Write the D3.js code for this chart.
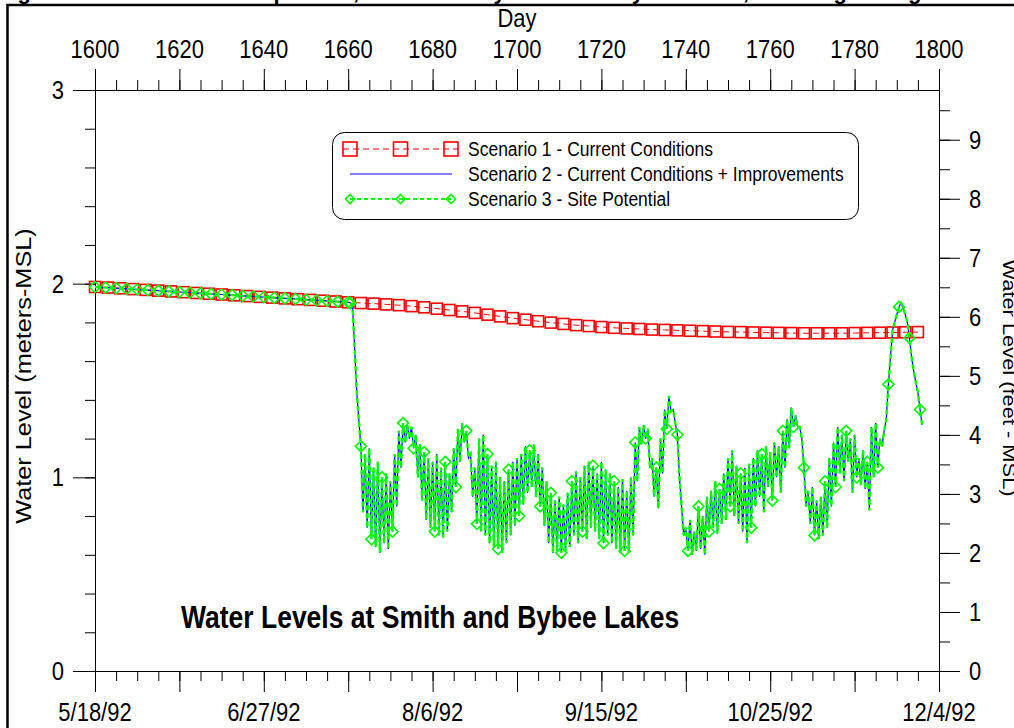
<!DOCTYPE html>
<html>
<head>
<meta charset="utf-8">
<title>Water Levels at Smith and Bybee Lakes</title>
<script src="https://d3js.org/d3.v7.min.js"></script>
<style>
  body { margin: 0; background: #fff; }
  svg { display: block; font-family: "Liberation Sans", Arial, sans-serif; }
</style>
</head>
<body>
<svg width="1014" height="728"></svg>
<script>
// axis ticks and labels
var dayTicks = [1600, 1620, 1640, 1660, 1680, 1700, 1720, 1740, 1760, 1780, 1800];
var dateTicks = [1600, 1640, 1680, 1720, 1760, 1800];
var dateLabels = ['5/18/92', '6/27/92', '8/6/92', '9/15/92', '10/25/92', '12/4/92'];
var meterTicks = [0, 1, 2, 3];
var feetTicks = [0, 1, 2, 3, 4, 5, 6, 7, 8, 9];

var seriesNames = ['Scenario 1 - Current Conditions',
                   'Scenario 2 - Current Conditions + Improvements',
                   'Scenario 3 - Site Potential'];

// scenario 1, one value every 3 days starting at day 1600
var s1Start = 1600, s1Step = 3;
var scenario1 = [
  1.983, 1.980, 1.976, 1.972, 1.968, 1.964, 1.960, 1.956, 1.952, 1.948,
  1.944, 1.940, 1.936, 1.932, 1.928, 1.924, 1.920, 1.916, 1.912, 1.908,
  1.904, 1.900, 1.897, 1.893, 1.889, 1.884, 1.878, 1.871, 1.864, 1.857,
  1.849, 1.840, 1.831, 1.822, 1.814, 1.806, 1.799, 1.792, 1.786, 1.781,
  1.776, 1.772, 1.769, 1.766, 1.763, 1.761, 1.759, 1.757, 1.755, 1.753,
  1.751, 1.750, 1.748, 1.747, 1.746, 1.745, 1.744, 1.744, 1.744, 1.744,
  1.745, 1.746, 1.747, 1.748, 1.749, 1.750
];

// scenarios 2 and 3 lie on top of each other in the picture
// before the drop: every 2.5 days from day 1600
var earlyStart = 1600, earlyStep = 2.5;
var scenarioEarly = [
  1.983, 1.980, 1.977, 1.973, 1.970, 1.967, 1.964, 1.960, 1.957, 1.954,
  1.950, 1.947, 1.944, 1.941, 1.937, 1.934, 1.931, 1.927, 1.924, 1.921,
  1.917, 1.914, 1.911, 1.907, 1.904
];
// after the drop: every half day from day 1660.5
var lateStart = 1660.5, lateStep = 0.5;
var scenarioLate = [
  1.90, 1.89, 1.68, 1.45, 1.30,
  // 1663 -
  1.16, 0.82, 1.12, 0.74, 1.15, 0.68, 1.05, 0.64, 1.08, 0.61,
  1.00, 0.66, 1.02, 0.63, 0.98, 0.72, 1.12, 0.85, 1.24, 1.05,
  1.28, 1.18, 1.27, 1.20, 1.26, 1.15, 1.22, 1.00, 1.17, 0.88,
  1.13, 0.78, 1.10, 0.74, 1.08, 0.72, 1.12, 0.70, 1.05, 0.69,
  // 1683 -
  1.08, 0.72, 1.02, 0.82, 1.15, 0.95, 1.25, 1.08, 1.28, 1.18,
  1.24, 1.10, 1.12, 0.90, 1.05, 0.76, 1.20, 0.72, 1.22, 0.70,
  1.12, 0.66, 1.06, 0.64, 1.08, 0.63, 1.00, 0.61, 0.98, 0.66,
  1.04, 0.70, 1.08, 0.75, 1.10, 0.80, 1.12, 0.86, 1.16, 0.92,
  // 1703 -
  1.14, 0.95, 1.17, 0.90, 1.12, 0.85, 1.05, 0.75, 0.98, 0.66,
  0.92, 0.61, 0.88, 0.62, 0.90, 0.61, 0.86, 0.62, 0.92, 0.64,
  0.98, 0.70, 1.03, 0.66, 1.00, 0.72, 1.06, 0.68, 1.08, 0.74,
  1.06, 0.72, 1.02, 0.68, 1.08, 0.66, 1.04, 0.70, 1.02, 0.66,
  // 1723 -
  0.98, 0.63, 0.95, 0.61, 0.99, 0.62, 0.93, 0.61, 1.00, 0.70,
  1.18, 0.98, 1.26, 1.17, 1.27, 1.20, 1.25, 1.05, 1.10, 0.90,
  1.05, 0.84, 1.20, 1.02, 1.35, 1.25, 1.42, 1.34, 1.35, 1.28,
  1.22, 1.00, 0.85, 0.70, 0.74, 0.62, 0.78, 0.60, 0.72, 0.62,
  // 1743 -
  0.85, 0.63, 0.80, 0.60, 0.90, 0.72, 0.93, 0.74, 0.98, 0.71,
  0.94, 0.76, 1.02, 0.78, 1.10, 0.85, 1.14, 0.80, 1.06, 0.76,
  1.02, 0.72, 1.05, 0.66, 1.07, 0.74, 1.10, 0.85, 1.14, 0.90,
  1.12, 0.82, 1.16, 0.95, 1.13, 0.88, 1.18, 1.00, 1.16, 0.92,
  // 1763 -
  1.24, 1.05, 1.30, 1.15, 1.36, 1.26, 1.32, 1.26, 1.26, 1.20,
  1.05, 0.85, 0.93, 0.76, 0.95, 0.70, 0.88, 0.68, 0.90, 0.70,
  0.98, 0.74, 1.10, 0.85, 1.18, 0.95, 1.26, 1.02, 1.22, 0.98,
  1.24, 1.08, 1.20, 0.92, 1.22, 1.00, 1.10, 0.96, 1.14, 0.94,
  // 1783 -
  1.08, 0.83, 1.26, 1.00, 1.28, 1.05,
  1.20, 1.16, 1.24, 1.30, 1.48, 1.62, 1.76, 1.80, 1.84, 1.88,
  1.90, 1.88, 1.84, 1.80, 1.72, 1.62, 1.55, 1.49, 1.44, 1.35, 1.27
];

var svg = d3.select('svg');
var margin = { left: 95, right: 75, top: 90, bottom: 57 };
var width = +svg.attr('width');
var height = +svg.attr('height');
var stretch = 1.15;   // the original lettering is drawn a bit tall

var x = d3.scaleLinear().domain([1600, 1800]).range([margin.left, width - margin.right]);
var y = d3.scaleLinear().domain([0, 3]).range([height - margin.bottom, margin.top]);
var yFeet = d3.scaleLinear().domain([0, 3 / 0.3048]).range([height - margin.bottom, margin.top]);

var s1 = scenario1.map(function(v, i) { return { day: s1Start + i * s1Step, v: v, mark: true }; });
var s23 = scenarioEarly.map(function(v, i) { return { day: earlyStart + i * earlyStep, v: v, mark: true }; })
  .concat(scenarioLate.map(function(v, i) { return { day: lateStart + i * lateStep, v: v, mark: i % 5 === 0 }; }));

// figure border and the cut off caption above it
svg.append('text')
  .attr('x', -2).attr('y', -1.5)
  .style('font-weight', 'bold').style('font-size', '22px')
  .text('Figure 6.  Water Level Comparison, Smith and Bybee Lakes by Scenario, Showing Changes');
svg.append('path')
  .attr('d', 'M7.5,' + height + 'V5H' + width)
  .attr('fill', 'none').attr('stroke', '#000').attr('stroke-width', 2.5);

function tickAxis(axis, g) {
  g.call(axis);
  g.select('.domain').remove();
  g.selectAll('line').attr('stroke', '#000');
}

var plotBottom = y(0), plotTop = y(3);
var left = x(1600), right = x(1800);

var gTop = svg.append('g').attr('transform', 'translate(0,' + plotTop + ')');
tickAxis(d3.axisTop(x).tickValues(d3.range(1600, 1801, 5)).tickSize(10).tickFormat(''), gTop.append('g'));
tickAxis(d3.axisTop(x).tickValues(dayTicks).tickSize(21).tickFormat(''), gTop.append('g'));

var gBot = svg.append('g').attr('transform', 'translate(0,' + plotBottom + ')');
tickAxis(d3.axisBottom(x).tickValues(d3.range(1600, 1801, 5)).tickSize(10).tickFormat(''), gBot.append('g'));
tickAxis(d3.axisBottom(x).tickValues(dayTicks).tickSize(21).tickFormat(''), gBot.append('g'));

var gLeft = svg.append('g').attr('transform', 'translate(' + left + ',0)');
tickAxis(d3.axisLeft(y).tickValues(d3.range(0, 3.01, 0.2)).tickSize(10).tickFormat(''), gLeft.append('g'));
tickAxis(d3.axisLeft(y).tickValues(meterTicks).tickSize(22).tickFormat(''), gLeft.append('g'));

var gRight = svg.append('g').attr('transform', 'translate(' + right + ',0)');
tickAxis(d3.axisRight(yFeet).tickValues(d3.range(0, 9.51, 0.5)).tickSize(11).tickFormat(''), gRight.append('g'));
tickAxis(d3.axisRight(yFeet).tickValues(feetTicks).tickSize(21).tickFormat(''), gRight.append('g'));

svg.append('rect')
  .attr('x', left + 0.5).attr('y', plotTop + 0.5)
  .attr('width', right - left).attr('height', plotBottom - plotTop)
  .attr('fill', 'none').attr('stroke', '#000');

// tall lettering helper
function label(px, py, txt, anchor, size, rot, extra) {
  var t = 'translate(' + px + ',' + py + ')';
  if (rot) t += ' rotate(' + rot + ') scale(' + stretch + ',1)';
  else t += ' scale(1,' + stretch + ')';
  return svg.append('g').attr('transform', t)
    .append('text')
    .attr('text-anchor', anchor)
    .style('font-size', size + 'px')
    .style('font-weight', extra || 'normal')
    .text(txt);
}

dayTicks.forEach(function(d) { label(x(d), 58, d, 'middle', 22); });
label((left + right) / 2, 27, 'Day', 'middle', 22);
dateTicks.forEach(function(d, i) { label(x(d), 721, dateLabels[i], 'middle', 22); });
meterTicks.forEach(function(d) { label(64, y(d), d, 'end', 22).attr('dy', '0.358em'); });
feetTicks.forEach(function(d) { label(right + 30, yFeet(d), d, 'start', 22).attr('dy', '0.358em'); });
label(31, 376, 'Water Level (meters-MSL)', 'middle', 22, -90);
label(1003, 378, 'Water Level (feet - MSL)', 'middle', 19, 90);

label(181, 628, 'Water Levels at Smith and Bybee Lakes', 'start', 26.5, 0, 'bold');

// series
var line = d3.line().x(function(d) { return x(d.day); }).y(function(d) { return y(d.v); });
var red = '#ff0000', blue = '#0000ff', green = '#00ff00';

function squares(g, pts, size) {
  g.selectAll('rect.sq').data(pts).enter().append('rect').attr('class', 'sq')
    .attr('x', function(d) { return d[0] - size / 2; })
    .attr('y', function(d) { return d[1] - size / 2; })
    .attr('width', size).attr('height', size)
    .attr('fill', 'none').attr('stroke', red).attr('stroke-width', 1.6);
}
function diamonds(g, pts, size) {
  g.selectAll('path.dm').data(pts).enter().append('path').attr('class', 'dm')
    .attr('d', function(d) {
      var h = size / 2;
      return 'M' + d[0] + ',' + (d[1] - h) + 'L' + (d[0] + h) + ',' + d[1] +
             'L' + d[0] + ',' + (d[1] + h) + 'L' + (d[0] - h) + ',' + d[1] + 'Z';
    })
    .attr('fill', 'none').attr('stroke', green).attr('stroke-width', 1.6);
}

var plot = svg.append('g');
plot.append('path').attr('d', line(s1))
  .attr('fill', 'none').attr('stroke', red).attr('stroke-width', 1).attr('stroke-dasharray', '6,4');
squares(plot.append('g'), s1.map(function(d) { return [x(d.day), y(d.v)]; }), 11);

plot.append('path').attr('d', line(s23))
  .attr('fill', 'none').attr('stroke', blue).attr('stroke-width', 1.2);

plot.append('path').attr('d', line(s23))
  .attr('fill', 'none').attr('stroke', green).attr('stroke-width', 2.4).attr('stroke-dasharray', '5,3');
diamonds(plot.append('g'), s23.filter(function(d) { return d.mark; }).map(function(d) { return [x(d.day), y(d.v)]; }), 11);

// legend
var lg = svg.append('g');
lg.append('rect').attr('x', 332.5).attr('y', 132.5).attr('width', 526).attr('height', 87).attr('rx', 12)
  .attr('fill', '#fff').attr('stroke', '#000');
var rows = [149, 174, 199];
var symX = [350, 400.5, 451];
lg.append('line').attr('x1', 343).attr('x2', 458).attr('y1', rows[0]).attr('y2', rows[0])
  .attr('stroke', red).attr('stroke-dasharray', '6,4');
squares(lg.append('g'), symX.map(function(sx) { return [sx, rows[0]]; }), 14);
lg.append('line').attr('x1', 350).attr('x2', 452).attr('y1', rows[1]).attr('y2', rows[1])
  .attr('stroke', blue).attr('stroke-width', 1.2);
lg.append('line').attr('x1', 350).attr('x2', 451).attr('y1', rows[2]).attr('y2', rows[2])
  .attr('stroke', green).attr('stroke-width', 2).attr('stroke-dasharray', '4,3');
diamonds(lg.append('g'), symX.map(function(sx) { return [sx, rows[2]]; }), 9);
seriesNames.forEach(function(n, i) {
  var t = 'translate(468,' + rows[i] + ') scale(1,' + stretch + ')';
  lg.append('g').attr('transform', t).append('text')
    .attr('dy', '0.358em').style('font-size', '17.5px').text(n);
});
</script>
</body>
</html>
